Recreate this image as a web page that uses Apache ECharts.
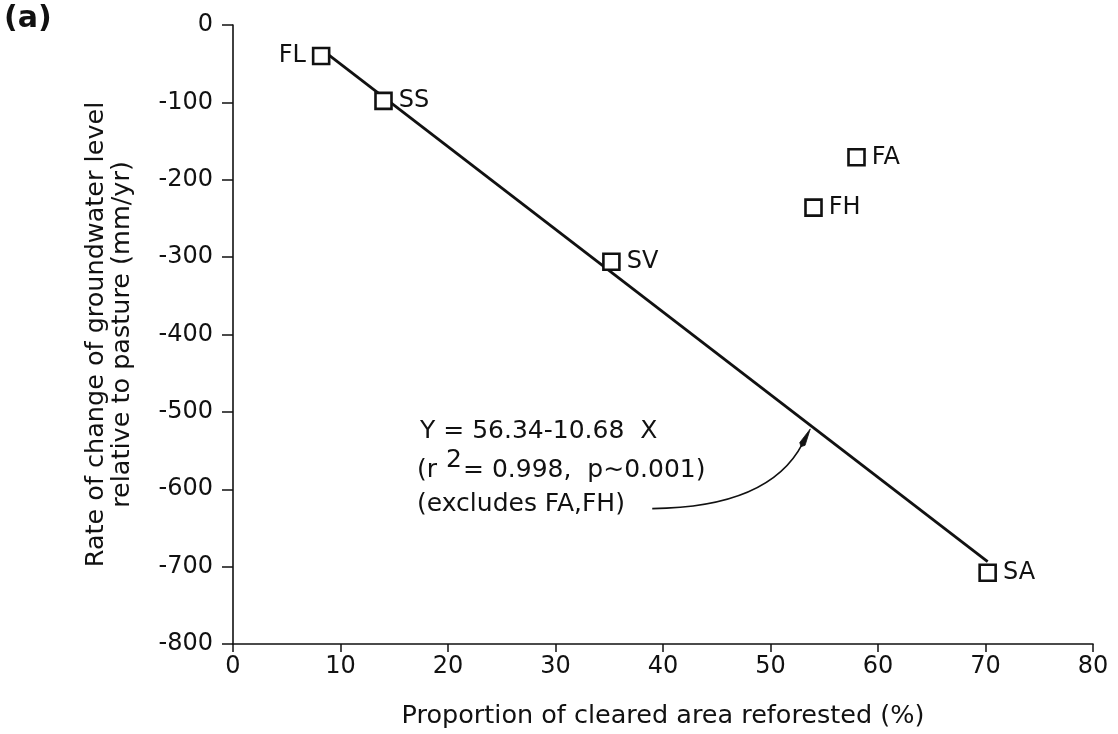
<!DOCTYPE html>
<html>
<head>
<meta charset="utf-8">
<script src="https://cdn.jsdelivr.net/npm/echarts@6/dist/echarts.min.js"></script>
<style>
  html, body { margin: 0; padding: 0; background: #fff; }
  #chart { width: 1118px; height: 734px; }
</style>
</head>
<body>
<div id="chart"></div>
<script>
// Sites: proportion of cleared area reforested (%) vs rate of change of groundwater level (mm/yr)
const siteNames = ['FL', 'SS', 'SV', 'FH', 'FA', 'SA'];
const reforestedPct = [8.2, 14.0, 35.2, 54.0, 58.0, 70.2];
const waterRate = [-40, -98, -306, -236, -171, -708];
const labelSide = ['left', 'right', 'right', 'right', 'right', 'right'];

// Regression fit (excluding FA, FH): Y = a + b X
const fitIntercept = 56.34;
const fitSlope = -10.68;
const fitRange = [8.2, 70.2];

// Axis settings
const xTicks = [0, 10, 20, 30, 40, 50, 60, 70, 80];
const yTicks = [0, -100, -200, -300, -400, -500, -600, -700, -800];

// Annotation anchor points in data units
const noteAnchor = [17.4, -526];
const arrowStart = [39.0, -625];
const arrowEnd = [53.7, -522];

const FONT = '"DejaVu Sans", "Liberation Sans", Arial, sans-serif';
const INK = '#111';
const chart = echarts.init(document.getElementById('chart'), null, { renderer: 'canvas' });

const points = siteNames.map((n, i) => ({
  name: n,
  value: [reforestedPct[i], waterRate[i]],
  label: { position: labelSide[i] }
}));
const fitLine = fitRange.map(x => [x, fitIntercept + fitSlope * x]);

chart.setOption({
  animation: false,
  backgroundColor: '#fff',
  grid: { left: 233, right: 25, top: 25, bottom: 89, containLabel: false },
  xAxis: {
    type: 'value',
    min: xTicks[0], max: xTicks[xTicks.length - 1], interval: 10,
    name: 'Proportion of cleared area reforested (%)',
    nameLocation: 'middle', nameGap: 59,
    nameTextStyle: { fontFamily: FONT, fontSize: 25.5, color: INK },
    axisLine: { show: true, onZero: false, lineStyle: { color: INK, width: 1.6 } },
    axisTick: { show: true, inside: false, length: 8, lineStyle: { color: INK, width: 1.5 } },
    axisLabel: { fontFamily: FONT, fontSize: 24, color: INK, margin: 11 },
    splitLine: { show: false }
  },
  yAxis: {
    type: 'value',
    min: yTicks[yTicks.length - 1], max: yTicks[0], interval: 100,
    name: 'Rate of change of groundwater level\nrelative to pasture (mm/yr)',
    nameLocation: 'middle', nameGap: 98,
    nameTextStyle: { fontFamily: FONT, fontSize: 25.5, color: INK, lineHeight: 26 },
    axisLine: { show: true, onZero: false, lineStyle: { color: INK, width: 1.6 } },
    axisTick: { show: true, inside: false, length: 11, lineStyle: { color: INK, width: 1.5 } },
    axisLabel: { fontFamily: FONT, fontSize: 24, color: INK, margin: 20 },
    splitLine: { show: false }
  },
  series: [
    {
      type: 'line',
      data: fitLine,
      symbol: 'none',
      lineStyle: { color: INK, width: 2.8 },
      z: 2
    },
    {
      type: 'scatter',
      data: points,
      symbol: 'rect',
      symbolSize: 16,
      itemStyle: { color: '#fff', borderColor: INK, borderWidth: 2.6, opacity: 1 },
      label: {
        show: true,
        formatter: p => p.name,
        fontFamily: FONT, fontSize: 24, color: INK, opacity: 1,
        distance: 6
      },
      z: 3
    }
  ]
});

// Annotation text, curved arrow and panel tag, placed via the chart's coordinate system
function drawNotes() {
  const a = chart.convertToPixel({ gridIndex: 0 }, noteAnchor);
  const s = chart.convertToPixel({ gridIndex: 0 }, arrowStart);
  const e = chart.convertToPixel({ gridIndex: 0 }, arrowEnd);
  const cp = [s[0] + (e[0] - s[0]) * 0.74, s[1] - 1];
  // direction of the curve at its end for the arrowhead
  const ang = Math.atan2(e[1] - cp[1], e[0] - cp[0]);
  const headLen = 17, headW = 3;
  const tip = e;
  const base = [tip[0] - Math.cos(ang) * headLen, tip[1] - Math.sin(ang) * headLen];
  const nx = -Math.sin(ang) * headW, ny = Math.cos(ang) * headW;
  const txt = { fontFamily: FONT, fontSize: 25, fill: INK, verticalAlign: 'middle' };
  const t = (str, dx, dy) => ({ type: 'text', x: a[0] + dx, y: a[1] + dy, style: Object.assign({ text: str }, txt) });
  chart.setOption({
    graphic: [
      { type: 'text', x: 4, y: 4, style: { text: '(a)', fontFamily: FONT, fontSize: 30, fontWeight: 'bold', fill: INK } },
      t('Y = 56.34-10.68  X', 0, 0),
      t('(r', -3, 39),
      t('2', 26, 29),
      t('= 0.998,  p\u223C0.001)', 43, 39),
      t('(excludes FA,FH)', -3, 73),
      {
        type: 'bezierCurve',
        shape: { x1: s[0], y1: s[1], x2: base[0], y2: base[1], cpx1: cp[0], cpy1: cp[1] },
        style: { stroke: INK, lineWidth: 1.6, fill: null }
      },
      {
        type: 'polygon',
        shape: { points: [tip, [base[0] + nx, base[1] + ny], [base[0] - 3 * Math.cos(ang), base[1] - 3 * Math.sin(ang)], [base[0] - nx, base[1] - ny]] },
        style: { fill: INK, stroke: INK, lineWidth: 0.8 }
      }
    ]
  });
}
drawNotes();
</script>
</body>
</html>
